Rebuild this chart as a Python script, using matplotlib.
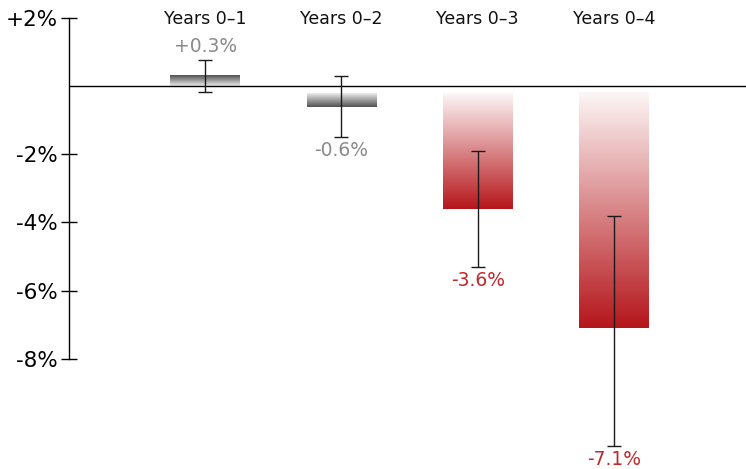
import numpy as np
import matplotlib.pyplot as plt
from matplotlib.colors import LinearSegmentedColormap

# ------------------------------
# data
# ------------------------------
periods = ['Years 0–1', 'Years 0–2', 'Years 0–3', 'Years 0–4']
change = [0.3, -0.6, -3.6, -7.1]          # % change
err_low = [0.47, 0.9, 1.7, 3.45]           # lower error
err_high = [0.47, 0.9, 1.7, 3.3]           # upper error
value_labels = ['+0.3%', '-0.6%', '-3.6%', '-7.1%']
significant = [False, False, True, True]

yticks = [2, -2, -4, -6, -8]
ytick_labels = ['+2%', '-2%', '-4%', '-6%', '-8%']

# ------------------------------
# style
# ------------------------------
red = '#b5161b'
gray = '#505050'
red_text = '#c1272d'
gray_text = '#8a8a8a'
bar_width = 0.51
neg_gap = 0.2   # negative bars start a little under the zero line

fig = plt.figure(figsize=(7.46, 4.69), dpi=100)
ax = fig.add_axes([69 / 746, 0, 677 / 746, 1])
ax.set_xlim(-1.0, 3.97)
ax.set_ylim(-11.23, 2.525)

x = np.arange(len(periods))
for i, v in enumerate(change):
    if v >= 0:
        y0, y1 = 0, v
    else:
        y0, y1 = -neg_gap, v
    tip = red if significant[i] else gray
    light = '#fdf6f6' if significant[i] else '#ececec'
    cmap = LinearSegmentedColormap.from_list('g%d' % i, [light, tip])
    grad = np.linspace(0, 1, 256).reshape(-1, 1)
    # light end near zero, full colour at the bar tip
    ax.imshow(grad, cmap=cmap, aspect='auto', origin='lower' if v >= 0 else 'upper',
              extent=[x[i] - bar_width / 2, x[i] + bar_width / 2, min(y0, y1), max(y0, y1)],
              interpolation='bilinear', zorder=1)

ax.errorbar(x, change, yerr=[err_low, err_high], fmt='none', ecolor='#1a1a1a',
            elinewidth=1.0, capsize=5, capthick=1.0, zorder=3)

# value labels just past the end of each error bar
for i, v in enumerate(change):
    col = red_text if significant[i] else gray_text
    if v >= 0:
        ax.annotate(value_labels[i], (x[i], v + err_high[i]), xytext=(0, 3),
                    textcoords='offset points', ha='center', va='bottom',
                    fontsize=13.5, color=col)
    else:
        ax.annotate(value_labels[i], (x[i], v - err_low[i]), xytext=(0, -3),
                    textcoords='offset points', ha='center', va='top',
                    fontsize=13.5, color=col)

# category names along the top
for i, p in enumerate(periods):
    ax.text(x[i], 1.98, p, ha='center', va='center', fontsize=12.5, color='#111111')

ax.axhline(0, color='black', lw=1.0, zorder=2)

for s in ['top', 'right', 'bottom']:
    ax.spines[s].set_visible(False)
ax.spines['left'].set_bounds(-8, 2)
ax.spines['left'].set_linewidth(1.0)
ax.set_yticks(yticks)
ax.set_yticklabels(ytick_labels, fontsize=15.5)
ax.tick_params(axis='y', direction='inout', length=12, width=1.0, pad=2)
ax.set_xticks([])

plt.savefig('out.png', dpi=100)
